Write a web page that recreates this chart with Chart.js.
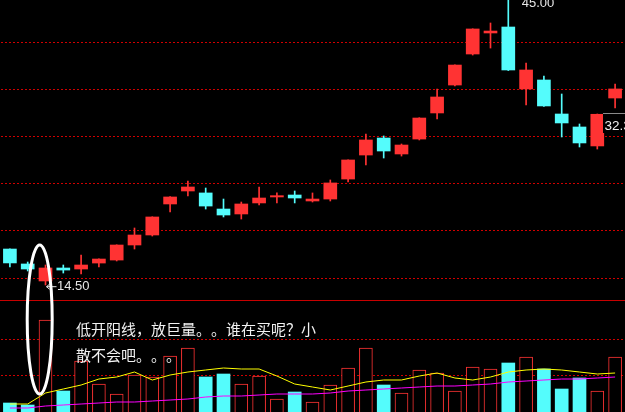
<!DOCTYPE html>
<html>
<head>
<meta charset="utf-8">
<script src="https://cdn.jsdelivr.net/npm/chart.js@4/dist/chart.umd.min.js"></script>
<style>
  html, body { margin: 0; padding: 0; background: #000; }
  #wrap { width: 625px; height: 412px; position: relative; overflow: hidden; }
  canvas { display: block; }
</style>
</head>
<body>
<div id="wrap"><canvas id="c" width="625" height="412"></canvas></div>
<script>
// ---- data ----
const categories = ['1','2','3','4','5','6','7','8','9','10','11','12','13','14','15','16','17','18',
  '19','20','21','22','23','24','25','26','27','28','29','30','31','32','33','34','35'];
const openP  = [18.35,16.75,14.93,16.32,16.21,16.85,17.17,18.78,19.85,23.17,24.56,24.35,22.63,22.10,23.28,23.92,24.13,23.49,
  23.70,25.84,28.41,30.23,28.52,30.12,32.91,35.90,39.22,41.47,42.11,35.48,36.44,32.80,31.41,29.38,34.51];
const highP  = [18.38,16.96,16.64,16.64,17.71,17.30,18.80,20.60,21.80,23.95,25.63,24.88,23.70,23.38,24.99,24.35,24.56,24.35,
  25.74,27.90,30.66,30.45,29.59,32.40,35.48,38.06,41.92,42.54,45.00,38.26,36.87,34.94,31.73,32.80,36.01];
const lowP   = [16.43,16.00,14.50,15.78,15.68,16.43,17.07,18.35,19.74,22.31,24.02,22.63,21.78,21.56,23.06,23.28,23.28,23.38,
  23.49,25.52,27.34,28.09,28.30,30.02,32.26,35.80,39.11,39.86,37.45,33.76,33.60,30.34,29.27,29.05,33.44];
const closeP = [16.86,16.21,16.32,16.10,16.64,17.28,18.78,19.85,21.78,23.92,24.99,22.95,21.99,23.17,23.81,24.06,23.81,23.70,
  25.42,27.88,30.02,28.84,29.48,32.37,34.62,38.04,41.90,41.68,37.51,37.51,33.66,31.84,29.70,32.77,35.48];
const volume = [9,7,92,21,51,28,18,37,35,56,64,35,38,28,36,13,20,10,27,44,64,27,19,42,39,21,45,43,49,55,43,23,34,21,55];
const volMA5  = [8,8,19,23,27,33,35,40,32,37,40,42,44,43,43,36,28,25,22,26,30,32,32,36,39,34,32,35,40,42,43,42,40,38,39];
const volMA10 = [4,4,6,7,8,9,10,10,11,12,13,15,16,16,17,18,18,18,19,21,22,23,24,25,26,26,27,28,30,31,32,33,33,34,35];
const priceGridTicks = [15.19, 20.33, 25.36, 30.39, 35.42, 40.45];
const volGridTicks = [36.5, 72.5];
const priceMin = 12.894, priceMax = 45.00;
const volMin = 0, volMax = 112;
const noteLine1 = '低开阳线，放巨量。。谁在买呢？小';
const noteLine2 = '散不会吧。。。';
const sideLabel = '32.34';

// ---- colours ----
const UP = '#ff3333', DOWN = '#54fcfc';
const isUp = openP.map((o, i) => closeP[i] >= o);
const candleColor = isUp.map(u => u ? UP : DOWN);
const bodies = openP.map((o, i) => [o, closeP[i]]);
const wicks = lowP.map((l, i) => [l, highP[i]]);

const bg = {
  id: 'bg',
  beforeDraw(chart) {
    const c = chart.ctx;
    c.save(); c.fillStyle = '#000'; c.fillRect(0, 0, chart.width, chart.height); c.restore();
  }
};

function drawMono(ctx, text, x0, y, step) {
  Array.from(text).forEach((ch, i) => ctx.fillText(ch, x0 + i * step, y));
}

const overlay = {
  id: 'overlay',
  afterDraw(chart) {
    const { ctx, scales } = chart;
    const x = scales.x, y = scales.y, yv = scales.yv;
    ctx.save();
    // separator between panels
    ctx.fillStyle = '#c80000';
    ctx.fillRect(0, Math.round(yv.top), chart.width, 1);

    // highest / lowest markers
    let hi = 0, lo = 0;
    highP.forEach((v, i) => { if (v > highP[hi]) hi = i; });
    lowP.forEach((v, i) => { if (v < lowP[lo]) lo = i; });
    ctx.font = '13px "Liberation Sans", Arial, sans-serif';
    ctx.fillStyle = '#e6e6e6';
    ctx.textBaseline = 'alphabetic';
    const hx = x.getPixelForValue(hi), hy = y.getPixelForValue(highP[hi]);
    ctx.fillText(highP[hi].toFixed(2), hx + 13.5, hy + 6.5);
    const lx = x.getPixelForValue(lo), ly = y.getPixelForValue(lowP[lo]) + 1.7;
    ctx.strokeStyle = '#e6e6e6'; ctx.lineWidth = 1;
    ctx.beginPath();
    ctx.moveTo(lx + 1, ly); ctx.lineTo(lx + 11, ly);
    ctx.moveTo(lx + 1, ly); ctx.lineTo(lx + 4, ly - 2.5);
    ctx.moveTo(lx + 1, ly); ctx.lineTo(lx + 4, ly + 2.5);
    ctx.stroke();
    ctx.textBaseline = 'middle';
    ctx.fillText(lowP[lo].toFixed(2), lx + 11.5, ly);

    // right side price tag
    ctx.fillStyle = '#000';
    ctx.fillRect(603, 113, 22, 20);
    ctx.fillStyle = '#8a8a8a';
    ctx.fillRect(603, 113, 22, 1);
    ctx.fillStyle = '#f0f0f0';
    ctx.font = '13.5px "Liberation Sans", Arial, sans-serif';
    ctx.textBaseline = 'alphabetic';
    ctx.fillText(sideLabel, 604.5, 130);

    // annotation ellipse around the low-open candle
    const ex = x.getPixelForValue(lo) - 5.8;
    ctx.strokeStyle = '#ffffff'; ctx.lineWidth = 3;
    ctx.beginPath();
    ctx.ellipse(ex, yv.top + 19.5, 12.5, 74.5, 0, 0, Math.PI * 2);
    ctx.stroke();

    // annotation text (fixed full-width cells)
    ctx.fillStyle = '#f2f2f2';
    ctx.font = '15px "Noto Sans CJK SC", sans-serif';
    ctx.textBaseline = 'middle';
    drawMono(ctx, noteLine1, 76, yv.top + 29.5, 15);
    drawMono(ctx, noteLine2, 76, yv.top + 55.5, 15);
    ctx.restore();
  }
};

new Chart(document.getElementById('c'), {
  data: {
    labels: categories,
    datasets: [
      { type: 'bar', data: bodies, yAxisID: 'y', grouped: false, barThickness: 13,
        backgroundColor: candleColor, borderWidth: 0, order: 1 },
      { type: 'bar', data: wicks, yAxisID: 'y', grouped: false, barThickness: 1,
        backgroundColor: candleColor, borderWidth: 0, order: 2 },
      { type: 'bar', data: volume, yAxisID: 'yv', grouped: false, barThickness: 13,
        backgroundColor: isUp.map(u => u ? '#000000' : DOWN),
        borderColor: isUp.map(u => u ? UP : DOWN),
        borderWidth: isUp.map(u => u ? 1 : 0), borderSkipped: 'start', order: 3 },
      { type: 'line', data: volMA5, yAxisID: 'yv', borderColor: '#ffff00', borderWidth: 1,
        pointRadius: 0, tension: 0, fill: false, order: 0 },
      { type: 'line', data: volMA10, yAxisID: 'yv', borderColor: '#ff00ff', borderWidth: 1,
        pointRadius: 0, tension: 0, fill: false, order: 0 }
    ]
  },
  options: {
    responsive: false,
    animation: false,
    events: [],
    layout: { padding: { left: 1, right: 1, top: 0, bottom: 0 } },
    plugins: { legend: { display: false }, tooltip: { enabled: false } },
    scales: {
      x: { display: false, offset: true, grid: { display: false } },
      y: {
        position: 'right', stack: 'panes', stackWeight: 300,
        min: priceMin, max: priceMax,
        afterBuildTicks: s => { s.ticks = priceGridTicks.map(v => ({ value: v })); },
        ticks: { display: false },
        grid: { color: '#d00000', lineWidth: 1, drawTicks: false },
        border: { display: false, dash: [2, 2] }
      },
      yv: {
        position: 'right', stack: 'panes', stackWeight: 112,
        min: volMin, max: volMax,
        afterBuildTicks: s => { s.ticks = volGridTicks.map(v => ({ value: v })); },
        ticks: { display: false },
        grid: { color: '#d00000', lineWidth: 1, drawTicks: false },
        border: { display: false, dash: [2, 2] }
      }
    }
  },
  plugins: [bg, overlay]
});
</script>
</body>
</html>
